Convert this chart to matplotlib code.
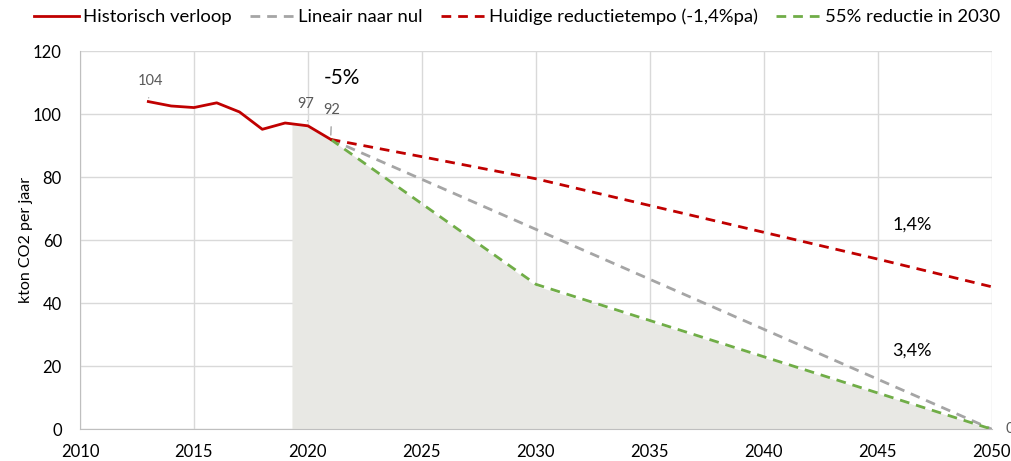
import numpy as np
import matplotlib
matplotlib.use("Agg")
import matplotlib.pyplot as plt

plt.rcParams['font.family'] = ['Lato', 'DejaVu Sans']

# historisch verloop
hist_years = [2013, 2014, 2015, 2016, 2017, 2018, 2019, 2020, 2021]
hist_vals = [104, 102.6, 102.1, 103.6, 100.7, 95.2, 97.2, 96.3, 92]

# lineair naar nul
lin_years = [2021, 2050]
lin_vals = [92, 0]

# huidige reductietempo
cur_years = [2021, 2025, 2030, 2035, 2040, 2045, 2050]
cur_vals = [92, 86.5, 79.5, 71, 62.5, 54, 45.2]

# 55% reductie in 2030
red55_years = [2021, 2030, 2050]
red55_vals = [92, 46, 0]

# grijs vlak
area_years = [2019.3, 2020, 2021, 2030, 2050]
area_vals = [97, 96.3, 92, 45.5, 0]

fig = plt.figure(figsize=(10.12, 4.61), dpi=100)
ax = fig.add_axes([0.079, 0.069, 0.901, 0.82])

ax.fill_between(area_years, area_vals, 0, color='#e8e8e4', lw=0, zorder=1)
ax.plot(hist_years, hist_vals, color='#c00000', lw=2, label='Historisch verloop', zorder=4)
ax.plot(lin_years, lin_vals, color='#a5a5a5', lw=2, ls=(0, (3.5, 2.5)), label='Lineair naar nul', zorder=3)
ax.plot(cur_years, cur_vals, color='#c00000', lw=2, ls=(0, (3.5, 2.5)),
        label='Huidige reductietempo (-1,4%pa)', zorder=3)
ax.plot(red55_years, red55_vals, color='#70ad47', lw=2, ls=(0, (3.5, 2.5)),
        label='55% reductie in 2030', zorder=3)

ax.set_xlim(2010, 2050)
ax.set_ylim(0, 120)
ax.set_xticks(range(2010, 2051, 5))
ax.set_yticks(range(0, 121, 20))
ax.grid(True, color='#d9d9d9', lw=1)
ax.set_axisbelow(True)
for s in ['top', 'right']:
    ax.spines[s].set_visible(False)
for s in ['left', 'bottom']:
    ax.spines[s].set_color('#bfbfbf')
ax.tick_params(axis='both', length=0, labelsize=12, colors='#000000')
ax.tick_params(axis='y', pad=13)
ax.tick_params(axis='x', pad=11)
ax.set_ylabel('kton CO2 per jaar', fontsize=11.5, labelpad=0)

# data labels
lab_col = '#595959'
ax.annotate('104', xy=(2013, 104.3), xytext=(2013.1, 110.5), fontsize=10.5, color=lab_col,
            ha='center', va='center', arrowprops=dict(arrowstyle='-', color='#a5a5a5', lw=1, shrinkA=5))
ax.annotate('97', xy=(2020, 97), xytext=(2019.9, 103.2), fontsize=10.5, color=lab_col,
            ha='center', va='center', arrowprops=dict(arrowstyle='-', color='#a5a5a5', lw=1, shrinkA=5))
ax.annotate('92', xy=(2021, 92.5), xytext=(2021.05, 101.3), fontsize=10.5, color=lab_col,
            ha='center', va='center', arrowprops=dict(arrowstyle='-', color='#a5a5a5', lw=1, shrinkA=5))
ax.text(2050.6, 0, '0', fontsize=10.5, color=lab_col, ha='left', va='center', clip_on=False)

ax.text(2021.5, 111.5, '-5%', fontsize=15, ha='center', va='center')
ax.text(2046.5, 65, '1,4%', fontsize=13, ha='center', va='center')
ax.text(2046.5, 24.8, '3,4%', fontsize=13, ha='center', va='center')

fig.legend(loc='center left', bbox_to_anchor=(0.034, 0.963), ncol=4, frameon=False,
           fontsize=13.3, handlelength=2.4, handletextpad=0.25, columnspacing=0.95,
           borderaxespad=0.0, borderpad=0.0)

fig.savefig('out.png', dpi=100)
